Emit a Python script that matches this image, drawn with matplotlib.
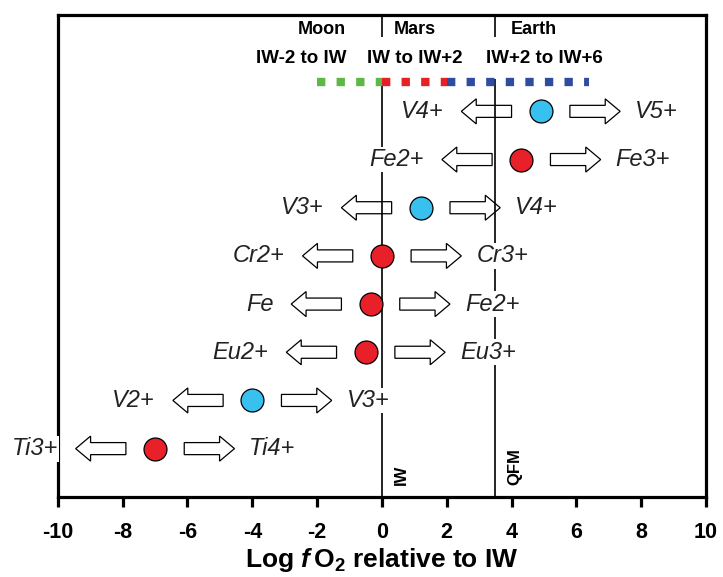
import matplotlib.pyplot as plt
from matplotlib.patches import FancyArrow

plt.rcParams['font.family'] = ['Liberation Sans', 'DejaVu Sans']
plt.rcParams['axes.unicode_minus'] = False
plt.rcParams['mathtext.fontset'] = 'custom'
plt.rcParams['mathtext.rm'] = 'Liberation Sans:bold'
plt.rcParams['mathtext.it'] = 'Liberation Sans:italic:bold'
plt.rcParams['mathtext.bf'] = 'Liberation Sans:bold'

# redox pairs, top to bottom
reduced = ['V4+', 'Fe2+', 'V3+', 'Cr2+', 'Fe', 'Eu2+', 'V2+', 'Ti3+']
oxidised = ['V5+', 'Fe3+', 'V4+', 'Cr3+', 'Fe2+', 'Eu3+', 'V3+', 'Ti4+']
fo2 = [4.9, 4.3, 1.2, 0.0, -0.35, -0.5, -4.0, -7.0]
kind = ['b', 'r', 'b', 'r', 'r', 'r', 'b', 'r']
rows = [8, 7, 6, 5, 4, 3, 2, 1]

# buffers and planet ranges
buffers = [0.0, 3.5]
buffer_names = ['IW', 'QFM']
planets = ['Moon', 'Mars', 'Earth']
planet_x = [-1.85, 1.0, 4.7]
ranges = ['IW-2 to IW', 'IW to IW+2', 'IW+2 to IW+6']
range_x = [-2.5, 1.0, 5.0]
range_lo = [-2.0, 0.0, 2.0]
range_hi = [0.0, 2.0, 6.4]
range_col = ['#5DB845', '#E42125', '#2E4DA0']

dot_col = {'r': '#E8202A', 'b': '#38C0EE'}

fig = plt.figure(figsize=(7.23, 5.77), dpi=100)
ax = fig.add_axes([0.080, 0.139, 0.8965, 0.835])
ax.set_xlim(-10, 10)
ax.set_ylim(0, 10)

for b in buffers:
    ax.axvline(b, color='k', lw=1.2, zorder=3)

gap = 0.9
alen = 1.55
for x, y, lo, hi, k in zip(fo2, rows, reduced, oxidised, kind):
    ax.add_patch(FancyArrow(x - gap, y, -alen, 0, width=0.25, head_width=0.52,
                            head_length=0.46, length_includes_head=True,
                            fc='white', ec='k', lw=0.9, zorder=2))
    ax.add_patch(FancyArrow(x + gap, y, alen, 0, width=0.25, head_width=0.52,
                            head_length=0.46, length_includes_head=True,
                            fc='white', ec='k', lw=0.9, zorder=2))
    ax.plot(x, y, 'o', ms=16.5, mfc=dot_col[k], mec='k', mew=0.9, zorder=4)
    ax.text(x - gap - alen - 0.55, y, lo, ha='right', va='center', style='italic',
            fontsize=17, color='#222222', zorder=5,
            bbox=dict(fc='white', ec='none', pad=1))
    ax.text(x + gap + alen + 0.46, y, hi, ha='left', va='center', style='italic',
            fontsize=17, color='#222222', zorder=5,
            bbox=dict(fc='white', ec='none', pad=1))

for b, n in zip(buffers, buffer_names):
    ax.text(b + 0.6, 0.25, n, rotation=90, ha='center', va='bottom',
            fontsize=12, fontweight='bold')

for p, px in zip(planets, planet_x):
    ax.text(px, 9.69, p, ha='center', va='center', fontsize=13, fontweight='bold')
for r, rx in zip(ranges, range_x):
    ax.text(rx, 9.1, r, ha='center', va='center', fontsize=13.5, fontweight='bold',
            zorder=5, bbox=dict(fc='white', ec='none', pad=9))
for lo, hi, c in zip(range_lo, range_hi, range_col):
    ax.plot([lo, hi], [8.6, 8.6], color=c, lw=6, dashes=(1, 1.35),
            solid_capstyle='butt', dash_capstyle='butt', zorder=6)

for s in ax.spines.values():
    s.set_linewidth(2.3)
ax.set_yticks([])
ax.set_xticks(range(-10, 11, 2))
ax.tick_params(axis='x', direction='out', length=7, width=2.3, pad=11, labelsize=15.5)
for t in ax.get_xticklabels():
    t.set_fontweight('bold')
ax.set_xlabel(r'Log $\mathit{f}\,$O$_2$ relative to IW', fontsize=19,
              fontweight='bold', labelpad=2)

plt.savefig('out.png', dpi=100)
